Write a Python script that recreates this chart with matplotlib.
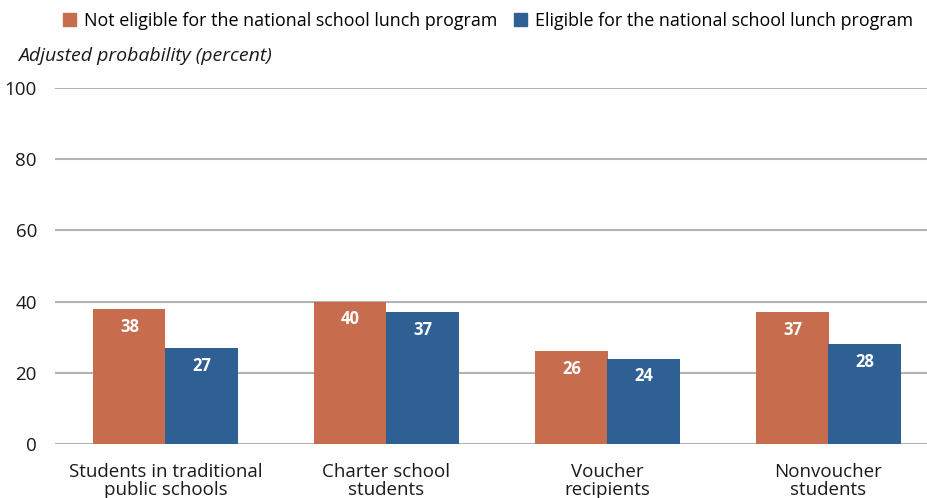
import matplotlib
matplotlib.use("Agg")
import matplotlib.pyplot as plt
import numpy as np
from matplotlib.patches import Patch

plt.rcParams['font.family'] = ['Open Sans', 'DejaVu Sans']

categories = ["Students in traditional\npublic schools", "Charter school\nstudents",
              "Voucher\nrecipients", "Nonvoucher\nstudents"]
not_eligible = [38, 40, 26, 37]
eligible = [27, 37, 24, 28]
series_names = ["Not eligible for the national school lunch program",
                "Eligible for the national school lunch program"]
yticks = [0, 20, 40, 60, 80, 100]

c_orange = "#C76C4D"
c_blue = "#2E6094"

fig = plt.figure(figsize=(9.28, 4.98), dpi=100)
W, H = 928, 498
ax = fig.add_axes([55 / W, 1 - 444 / H, 884 / W, (444 - 88) / H])

x = np.arange(len(categories))
bw = 0.326
b1 = ax.bar(x - bw / 2, not_eligible, bw, color=c_orange, zorder=3)
b2 = ax.bar(x + bw / 2, eligible, bw, color=c_blue, zorder=3)

for bars, vals in ((b1, not_eligible), (b2, eligible)):
    for rect, v in zip(bars, vals):
        ax.text(rect.get_x() + rect.get_width() / 2, v - 5, f"{v}",
                ha="center", va="center", color="white", fontsize=12,
                fontweight="bold", zorder=4)

ax.set_ylim(0, 100)
ax.set_xlim(-0.5, 3.5)
ax.set_yticks(yticks)
ax.set_yticklabels([str(t) for t in yticks], fontsize=13.5, color="#1a1a1a")
ax.set_xticks(x)
ax.set_xticklabels(categories, fontsize=13.5, color="#1a1a1a", linespacing=1.0)
ax.tick_params(axis="y", length=0, pad=13)
ax.tick_params(axis="x", length=0, pad=14)
ax.grid(axis="y", color="#b3b3b3", linewidth=1.5, zorder=0)
for s in ax.spines.values():
    s.set_visible(False)

fig.text(18 / W, 1 - 56 / H, "Adjusted probability (percent)", fontsize=14,
         style="italic", ha="left", va="center", color="#1a1a1a")

handles = [Patch(color=c_orange), Patch(color=c_blue)]
fig.legend(handles, series_names, loc="center left", bbox_to_anchor=(54 / W, 1 - 21 / H),
           ncol=2, frameon=False, fontsize=12.9, handlelength=0.7, handleheight=0.7,
           handletextpad=0.5, columnspacing=0.9, borderpad=0)

fig.savefig("out.png", dpi=100)
